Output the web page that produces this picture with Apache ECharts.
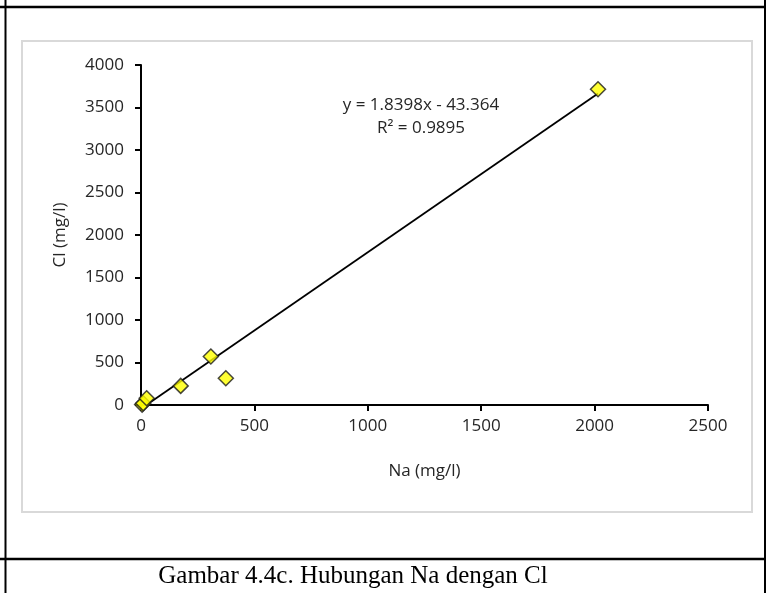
<!DOCTYPE html>
<html>
<head>
<meta charset="utf-8">
<script src="https://cdn.jsdelivr.net/npm/echarts@6/dist/echarts.min.js"></script>
<style>html,body{margin:0;padding:0;background:#fff}#c{width:766px;height:593px}</style>
</head>
<body>
<div id="c"></div>
<script>
// Data
const naValues = [5, 10, 25, 175, 308, 374, 2015];
const clValues = [5, 20, 80, 225, 570, 315, 3715];
const trendSlope = 1.8398;
const trendIntercept = -43.364;
const trendRange = [0, 2015];
const xTicks = [0, 500, 1000, 1500, 2000, 2500];
const yTicks = [0, 500, 1000, 1500, 2000, 2500, 3000, 3500, 4000];
const equationText = 'y = 1.8398x - 43.364';
const r2Text = 'R² = 0.9895';
const xTitle = 'Na (mg/l)';
const yTitle = 'Cl (mg/l)';
const captionText = 'Gambar 4.4c. Hubungan Na dengan Cl';

const points = naValues.map((v, i) => [v, clValues[i]]);
const trend = trendRange.map(x => [x, trendSlope * x + trendIntercept]);

const font = 'Open Sans';
const txt = '#262626';
const chart = echarts.init(document.getElementById('c'), null, {renderer: 'canvas'});
chart.setOption({
  animation: false,
  backgroundColor: '#fff',
  grid: {left: 141, right: 58, top: 65, bottom: 188, containLabel: false},
  xAxis: {
    type: 'value', min: xTicks[0], max: xTicks[xTicks.length - 1], interval: 500,
    name: xTitle, nameLocation: 'middle', nameGap: 58,
    nameTextStyle: {fontFamily: font, fontSize: 17, color: txt},
    axisLine: {show: true, onZero: false, lineStyle: {color: '#000', width: 2}},
    axisTick: {show: true, inside: false, length: 6, lineStyle: {color: '#000', width: 2}},
    axisLabel: {fontFamily: font, fontSize: 17, color: txt, margin: 13, formatter: v => String(v)},
    splitLine: {show: false}
  },
  yAxis: {
    type: 'value', min: yTicks[0], max: yTicks[yTicks.length - 1], interval: 500,
    name: yTitle, nameLocation: 'middle', nameGap: 72, nameRotate: 90,
    nameTextStyle: {fontFamily: font, fontSize: 17, color: txt},
    axisLine: {show: true, onZero: false, lineStyle: {color: '#000', width: 2}},
    axisTick: {show: true, inside: false, length: 6, lineStyle: {color: '#000', width: 2}},
    axisLabel: {fontFamily: font, fontSize: 17, color: txt, margin: 17, formatter: v => String(v)},
    splitLine: {show: false}
  },
  series: [
    {
      type: 'line', data: trend, showSymbol: false, symbol: 'none', clip: true,
      lineStyle: {color: '#000', width: 1.8}, z: 2
    },
    {
      type: 'scatter', data: points, symbol: 'diamond', symbolSize: 15,
      itemStyle: {color: '#ffff00', borderColor: '#1a1a1a', borderWidth: 1.5}, z: 3
    }
  ],
  graphic: [
    {type: 'rect', shape: {x: 22, y: 41, width: 730, height: 471}, style: {fill: 'none', stroke: '#d9d9d9', lineWidth: 2}, z: -1},
    {type: 'line', shape: {x1: 0, y1: 7, x2: 766, y2: 7}, style: {stroke: '#000', lineWidth: 2.5}},
    {type: 'line', shape: {x1: 5.5, y1: 0, x2: 5.5, y2: 593}, style: {stroke: '#000', lineWidth: 2}},
    {type: 'line', shape: {x1: 765, y1: 0, x2: 765, y2: 593}, style: {stroke: '#000', lineWidth: 2}},
    {type: 'line', shape: {x1: 0, y1: 559, x2: 766, y2: 559}, style: {stroke: '#000', lineWidth: 2.5}},
    {type: 'text', x: 421, y: 105, style: {text: equationText, fontFamily: font, fontSize: 17, fill: txt, align: 'center', verticalAlign: 'middle'}},
    {type: 'text', x: 421, y: 128, style: {text: r2Text, fontFamily: font, fontSize: 17, fill: txt, align: 'center', verticalAlign: 'middle'}},
    {type: 'text', x: 353, y: 576, style: {text: captionText, fontFamily: 'Liberation Serif', fontSize: 25, fill: '#000', align: 'center', verticalAlign: 'middle'}}
  ]
});
</script>
</body>
</html>
